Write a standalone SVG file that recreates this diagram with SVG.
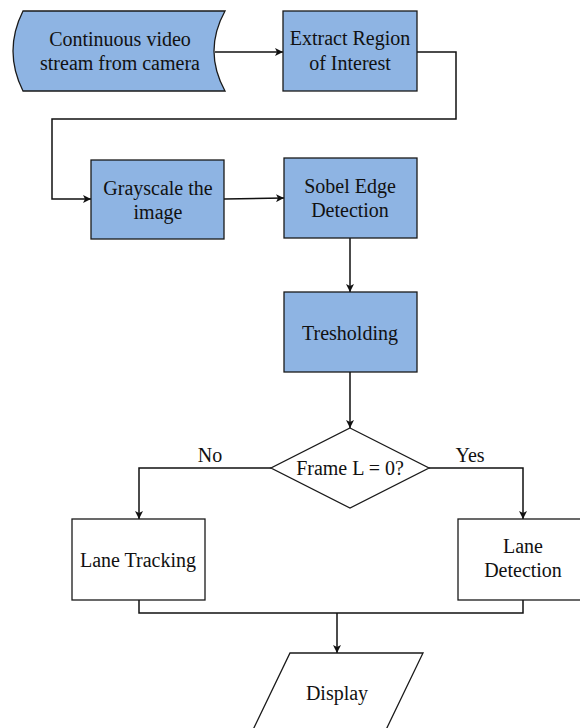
<svg xmlns="http://www.w3.org/2000/svg" width="580" height="728" viewBox="0 0 580 728">
<style>
.blue{fill:#8EB4E3;stroke:#1a1a1a;stroke-width:1.3}
.white{fill:#ffffff;stroke:#1a1a1a;stroke-width:1.3}
text{font-family:'Liberation Serif','DejaVu Serif','Times New Roman',serif;font-size:20px;fill:#111;text-anchor:middle}
.c{fill:none;stroke:#111;stroke-width:1.5}
</style>
<defs>
<marker id="ah" viewBox="0 0 10 10" refX="10" refY="5" markerWidth="8" markerHeight="8" markerUnits="userSpaceOnUse" orient="auto">
<path d="M0,0 L10,5 L0,10 L2.5,5 Z" fill="#111"/>
</marker>
</defs>
<g id="connectors">
<line class="c" x1="215" y1="52" x2="283" y2="52" marker-end="url(#ah)"/>
<polyline class="c" points="417,52 456,52 456,119 52,119 52,199 91,199" marker-end="url(#ah)"/>
<line class="c" x1="224" y1="199" x2="284" y2="198" marker-end="url(#ah)"/>
<line class="c" x1="350" y1="238" x2="350" y2="292" marker-end="url(#ah)"/>
<line class="c" x1="350" y1="372" x2="350" y2="428" marker-end="url(#ah)"/>
<polyline class="c" points="271,468 139,468 139,519" marker-end="url(#ah)"/>
<polyline class="c" points="429,468 523,468 523,519" marker-end="url(#ah)"/>
<polyline class="c" points="139,600 139,613 523,613 523,600"/>
<line class="c" x1="337" y1="613" x2="337" y2="653" marker-end="url(#ah)"/>
<text x="210" y="462" font-family="Liberation Serif, serif">No</text>
<text x="470" y="462" font-family="Liberation Serif, serif">Yes</text>
</g>
<g id="stream">
<path class="blue" d="M23,11 L225,11 Q203,51 225,91 L23,91 Q3,51 23,11 Z"/>
<text x="120" y="46">Continuous video</text>
<text x="120" y="70">stream from camera</text>
</g>
<g id="roi">
<rect class="blue" x="283" y="11" width="134" height="80"/>
<text x="350" y="45">Extract Region</text>
<text x="350" y="70">of Interest</text>
</g>
<g id="grayscale">
<rect class="blue" x="91" y="160" width="133" height="79"/>
<text x="158" y="195">Grayscale the</text>
<text x="158" y="219">image</text>
</g>
<g id="sobel">
<rect class="blue" x="284" y="158" width="133" height="80"/>
<text x="350" y="193">Sobel Edge</text>
<text x="350" y="217">Detection</text>
</g>
<g id="thresh">
<rect class="blue" x="284" y="292" width="133" height="80"/>
<text x="350" y="340">Tresholding</text>
</g>
<g id="decision">
<polygon class="white" points="350,428 429,468 350,508 271,468"/>
<text x="350" y="475">Frame L = 0?</text>
</g>
<g id="tracking">
<rect class="white" x="72" y="519" width="133" height="81"/>
<text x="138" y="567">Lane Tracking</text>
</g>
<g id="detection">
<rect class="white" x="458" y="519" width="130" height="81"/>
<text x="523" y="553">Lane</text>
<text x="523" y="577">Detection</text>
</g>
<g id="display">
<polygon class="white" points="290,653 423,653 383,736 250,736"/>
<text x="337" y="700">Display</text>
</g>
</svg>
